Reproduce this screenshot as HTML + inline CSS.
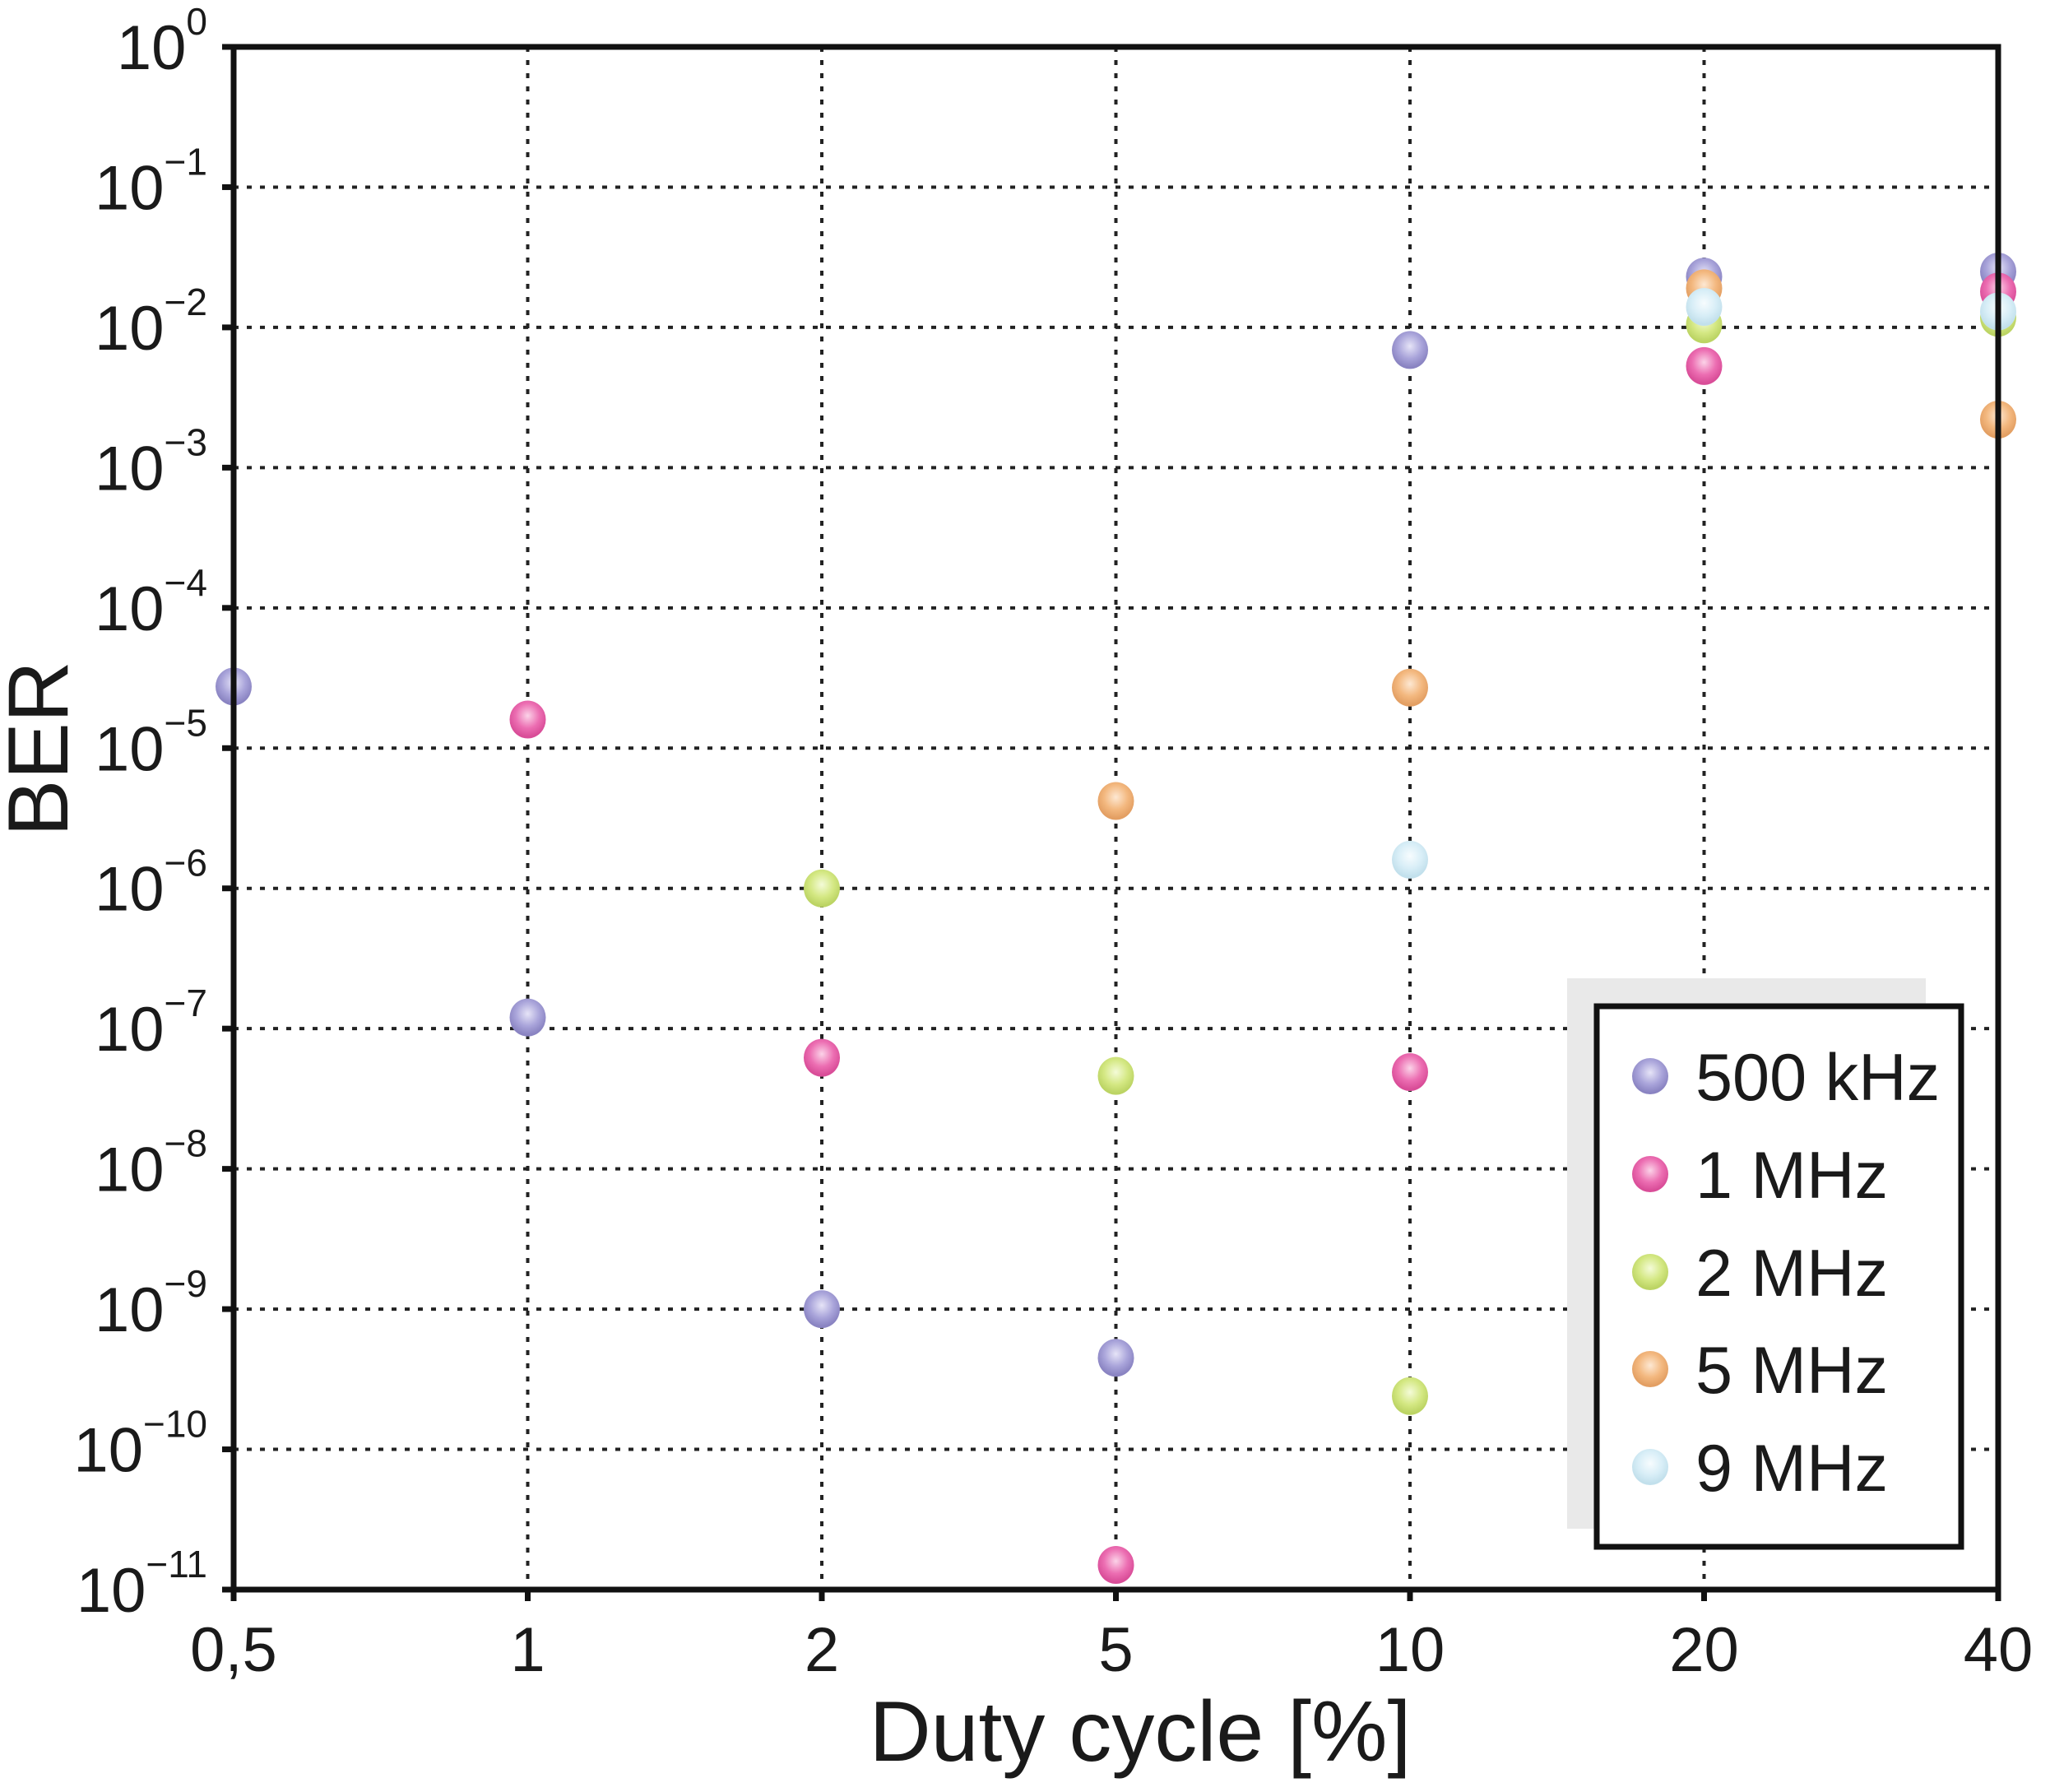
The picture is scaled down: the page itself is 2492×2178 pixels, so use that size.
<!DOCTYPE html>
<html><head><meta charset="utf-8"><style>
html,body{margin:0;padding:0;background:#fff;}
svg{display:block;font-family:"Liberation Sans",Arial,sans-serif;}
</style></head><body>
<svg id="chart" width="2492" height="2178" viewBox="0 0 2492 2178">
<defs>
<radialGradient id="g0" cx="50%" cy="40%" r="55%"><stop offset="0" stop-color="#e6e4f7"/><stop offset="0.6" stop-color="#a9a4da"/><stop offset="1" stop-color="#8a84c2"/></radialGradient>
<radialGradient id="g1" cx="50%" cy="40%" r="55%"><stop offset="0" stop-color="#fbd3e8"/><stop offset="0.6" stop-color="#ec6eb2"/><stop offset="1" stop-color="#d94d98"/></radialGradient>
<radialGradient id="g2" cx="50%" cy="40%" r="55%"><stop offset="0" stop-color="#f4fbd8"/><stop offset="0.6" stop-color="#d4e883"/><stop offset="1" stop-color="#bcd464"/></radialGradient>
<radialGradient id="g3" cx="50%" cy="40%" r="55%"><stop offset="0" stop-color="#fde8d3"/><stop offset="0.6" stop-color="#f3b87f"/><stop offset="1" stop-color="#e39f63"/></radialGradient>
<radialGradient id="g4" cx="50%" cy="40%" r="55%"><stop offset="0" stop-color="#f7fcfe"/><stop offset="0.6" stop-color="#d8eef7"/><stop offset="1" stop-color="#c2e0ec"/></radialGradient>
</defs>
<g id="grid"></g>
<g id="marks"></g>
<g id="axes"></g>
</svg>
<script>
const categories = ["0,5","1","2","5","10","20","40"];
const seriesNames = ["500 kHz","1 MHz","2 MHz","5 MHz","9 MHz"];
const s500k = [2.75e-5,1.2e-7,1e-9,4.5e-10,6.9e-3,2.3e-2,2.5e-2];
const s1M = [null,1.6e-5,6.2e-8,1.5e-11,4.9e-8,5.3e-3,1.8e-2];
const s2M = [null,null,1e-6,4.6e-8,2.4e-10,1.05e-2,1.17e-2];
const s5M = [null,null,null,4.2e-6,2.7e-5,1.9e-2,2.2e-3];
const s9M = [null,null,null,null,1.6e-6,1.4e-2,1.3e-2];
const yExponents = [0,-1,-2,-3,-4,-5,-6,-7,-8,-9,-10,-11];

const NS="http://www.w3.org/2000/svg";
const L=284,R=2429,T=57,B=1932;
const yMin=-11,yMax=0;
function xPos(i){return L+(R-L)*i/(categories.length-1);}
function yPos(v){return T+(B-T)*(yMax-Math.log10(v))/(yMax-yMin);}
function mk(tag,attrs,parent){const e=document.createElementNS(NS,tag);for(const k in attrs)e.setAttribute(k,attrs[k]);parent.appendChild(e);return e;}
const grid=document.getElementById('grid'),marks=document.getElementById('marks'),axes=document.getElementById('axes');

yExponents.forEach(function(ex){
  const y=yPos(Math.pow(10,ex));
  if(ex<0&&ex>yMin){
    const gl=mk('line',{x1:L,x2:R,y1:y,y2:y,stroke:'#222','stroke-width':4,'stroke-dasharray':'6 10'},grid);
    
    
  }
  const tk=mk('line',{x1:L-14,x2:L,y1:y,y2:y,stroke:'#111','stroke-width':7},axes);
  
  
  const t=mk('text',{x:252,y:y+27,'text-anchor':'end','font-size':76,fill:'#1a1a1a'},axes);
  
  
  const a=document.createElementNS(NS,'tspan');a.textContent='10';t.appendChild(a);
  const b=document.createElementNS(NS,'tspan');b.setAttribute('dy',-42);b.setAttribute('font-size',46);b.textContent=(ex===0?'0':'\u2212'+(-ex));t.appendChild(b);
});
categories.forEach(function(c,i){
  const x=xPos(i);
  if(i>0&&i<categories.length-1){
    const gl=mk('line',{x1:x,x2:x,y1:T,y2:B,stroke:'#222','stroke-width':4,'stroke-dasharray':'6 10'},grid);
    
    
  }
  const tk=mk('line',{x1:x,x2:x,y1:B,y2:B+14,stroke:'#111','stroke-width':7},axes);
  
  
  const t=mk('text',{x:x,y:2031,'text-anchor':'middle','font-size':76,fill:'#1a1a1a'},axes);
  
  
  t.textContent=c;
});
const frame=mk('rect',{x:L,y:T,width:R-L,height:B-T,fill:'none',stroke:'#111','stroke-width':7},axes);


const xt=mk('text',{x:1386,y:2140,'text-anchor':'middle','font-size':104,fill:'#1a1a1a'},axes);


xt.textContent='Duty cycle [%]';
const yt=mk('text',{x:0,y:0,'text-anchor':'middle','font-size':104,fill:'#1a1a1a',transform:'translate(82,910) rotate(-90)'},axes);


yt.textContent='BER';

const allSeries=[s500k,s1M,s2M,s5M,s9M];
allSeries.forEach(function(arr,si){
  arr.forEach(function(v,i){
    if(v==null)return;
    const c=mk('ellipse',{cx:xPos(i),cy:yPos(v),rx:22,ry:23,fill:'url(#g'+si+')'},marks);
    
    
  });
});

// legend
const lg=mk('g',{transform:'translate(-11,-6)'},axes);


const sh=mk('rect',{x:1916,y:1195,width:436,height:669,fill:'#e9e9e9'},lg);


const lb=mk('rect',{x:1952,y:1229,width:443,height:657,fill:'#fff',stroke:'#111','stroke-width':7},lg);


const ly=[1314,1433,1552,1670,1789];
seriesNames.forEach(function(n,si){
  const m=mk('ellipse',{cx:2017,cy:ly[si],rx:22,ry:22,fill:'url(#g'+si+')'},lg);
  
  
  const t=mk('text',{x:2072,y:ly[si]+29,'font-size':81,fill:'#1a1a1a'},lg);
  
  
  t.textContent=n;
});
</script>
</body></html>
